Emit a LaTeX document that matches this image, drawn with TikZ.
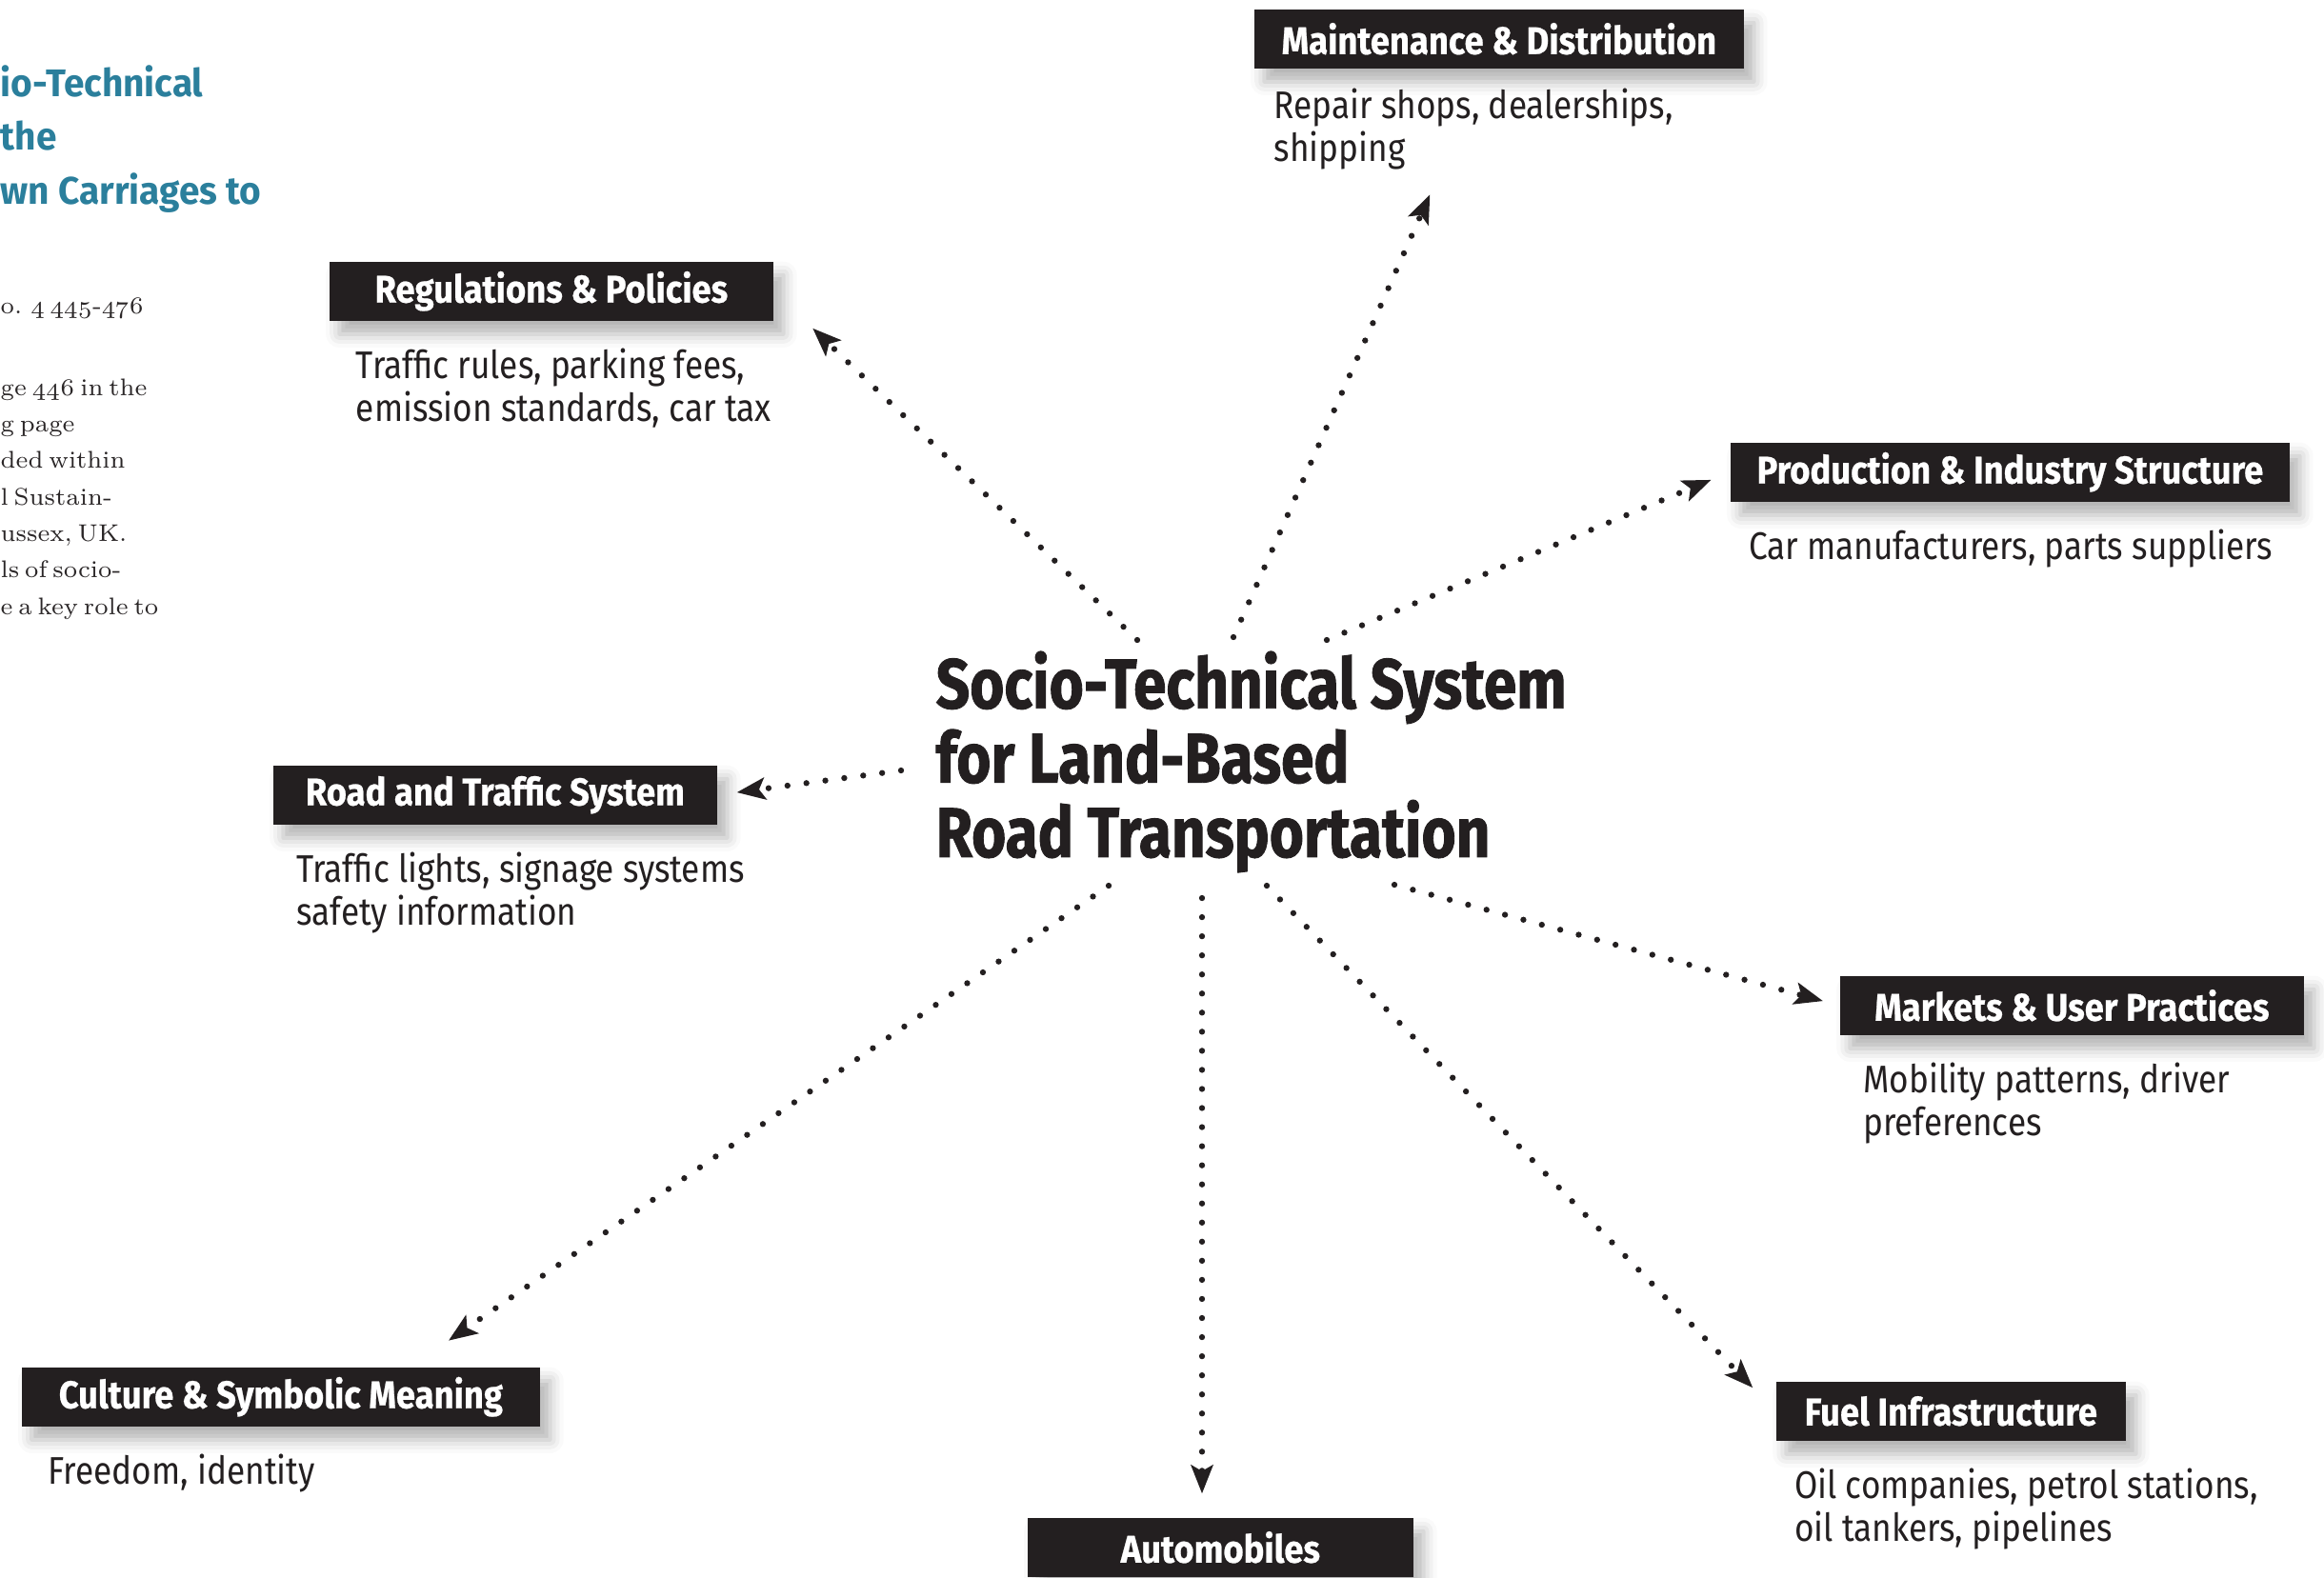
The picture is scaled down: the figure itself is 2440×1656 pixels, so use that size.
\documentclass[tikz,border=0pt]{standalone}
\usepackage{fontspec}
\setmainfont{Fira Sans}[FakeStretch=0.87]
\newfontfamily\headfont{Fira Sans}[FakeStretch=0.9, BoldFeatures={FakeBold=0.6}]
\newfontfamily\titlefont{Fira Sans}[FakeStretch=0.84, BoldFeatures={FakeBold=1.2}]
\newfontfamily\bluefont{Fira Sans}[FakeStretch=0.96]
\newfontfamily\notefont{Latin Modern Roman}[Numbers=OldStyle, WordSpace=0.6]
\usetikzlibrary{arrows.meta, positioning, calc, shadows.blur}
\definecolor{boxblack}{HTML}{231F20}
\definecolor{titleblue}{HTML}{2B7F9C}
\definecolor{notegray}{HTML}{2A2627}

\begin{document}
\begin{tikzpicture}[x=0.01cm, y=-0.01cm,
    head/.style={fill=boxblack, text=white, anchor=north west,
      font=\headfont\fontsize{11.5}{13}\selectfont\bfseries,
      minimum height=0.62cm, inner sep=0pt,
      blur shadow={shadow xshift=3pt, shadow yshift=-4pt,
        shadow blur radius=4pt, shadow opacity=30}},
    desc/.style={text=boxblack, align=left, inner sep=0pt,
      font=\fontsize{11.5}{12.8}\selectfont},
    note/.style={text=notegray, align=left, inner sep=0pt, anchor=west,
      font=\notefont\fontsize{7.2}{10.9}\selectfont},
    link/.style={-{Stealth[length=8.5pt, width=6.5pt, inset=1.8pt]},
      boxblack, line width=1.8pt, line cap=round,
      dash pattern=on 0pt off 5.7pt}
  ]
  \useasboundingbox (0,0) rectangle (2440,1656);

  \node[anchor=west, inner sep=0pt, align=left, text=titleblue,
    font=\bluefont\fontsize{11.5}{16}\selectfont\bfseries] (blue) at (0,146)
    {io-Technical\\the\\wn Carriages to};
  \node[note] (pages) at (0,324) {o. 4 445-476};
  \node[note] (notes) at (0,524) {ge 446 in the\\g page\\ded within\\%
    l Sustain-\\ussex, UK.\\ls of socio-\\e a key role to};

  \node[anchor=west, inner sep=0pt, align=left, text=boxblack,
    font=\titlefont\fontsize{21}{22.2}\selectfont\bfseries] (sys) at (982,800)
    {Socio-Technical System\\for Land-Based\\Road Transportation};

  \node[head, minimum width=5.14cm] (mnt) at (1316,9) {Maintenance \& Distribution};
  \node[desc, below right=5.5pt and 6pt of mnt.south west] (mntd)
    {Repair shops, dealerships,\\shipping};
  \node[head, minimum width=4.66cm] (reg) at (345,274) {Regulations \& Policies};
  \node[desc, below right=8pt and 8pt of reg.south west] (regd)
    {Traffic rules, parking fees,\\emission standards, car tax};
  \node[head, minimum width=5.87cm] (prd) at (1816,464) {Production \& Industry Structure};
  \node[desc, below right=8pt and 5.5pt of prd.south west] (prdd)
    {Car manufacturers, parts suppliers};
  \node[head, minimum width=4.66cm] (road) at (286,803) {Road and Traffic System};
  \node[desc, below right=8pt and 7pt of road.south west] (roadd)
    {Traffic lights, signage systems\\safety information};
  \node[head, minimum width=4.87cm] (mkt) at (1931,1024) {Markets \& User Practices};
  \node[desc, below right=8pt and 7pt of mkt.south west] (mktd)
    {Mobility patterns, driver\\preferences};
  \node[head, minimum width=5.44cm] (cul) at (22,1435) {Culture \& Symbolic Meaning};
  \node[desc, below right=8pt and 8pt of cul.south west] (culd)
    {Freedom, identity};
  \node[head, minimum width=3.67cm] (fue) at (1864,1450) {Fuel Infrastructure};
  \node[desc, below right=8pt and 5.5pt of fue.south west] (fued)
    {Oil companies, petrol stations,\\oil tankers, pipelines};
  \node[head, minimum width=4.05cm] (aut) at (1078,1593) {Automobiles};

  \coordinate (sReg) at (1194,672);
  \coordinate (sMnt) at (1295,669);
  \coordinate (sPrd) at (1393,672);
  \coordinate (sRoad) at (946,809);
  \coordinate (sMkt) at (1464,929);
  \coordinate (sCul) at (1164,930);
  \coordinate (sAut) at (1262,943);
  \coordinate (sFue) at (1330,930);

  \draw[link, shorten >=16pt] (sReg) -- (reg.east);
  \draw[link, shorten >=41pt] (sMnt) -- (mnt);
  \draw[link, shorten >=6pt] (sPrd) -- (prd.west);
  \draw[link, shorten >=5.7pt] (sRoad) -- (road.east);
  \draw[link, shorten >=5pt] (sMkt) -- (mkt.west);
  \draw[link, shorten >=13.7pt] (sCul) -- ($(cul.north)!.5!(cul.north east)$);
  \draw[link, shorten >=7pt] (sAut) -- (sAut |- aut.north);
  \draw[link, shorten >=9.7pt] (sFue) -- (fue.west);
\end{tikzpicture}
\end{document}
